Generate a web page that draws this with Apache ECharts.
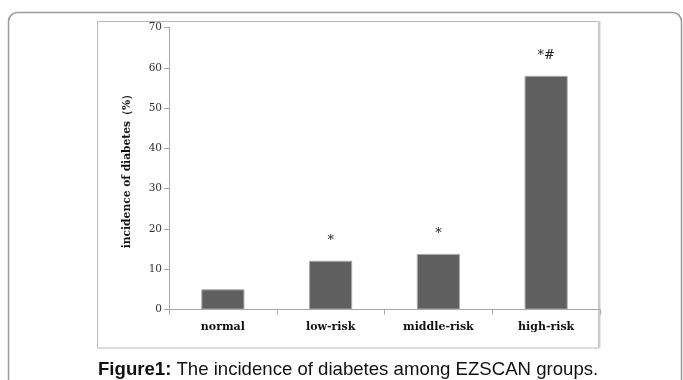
<!DOCTYPE html>
<html>
<head>
<meta charset="utf-8">
<script src="https://cdn.jsdelivr.net/npm/echarts@6/dist/echarts.min.js"></script>
<style>
html,body{margin:0;padding:0;background:#fff;}
#chart{width:683px;height:380px;}
</style>
</head>
<body>
<div id="chart"></div>
<script>
const categories = ['normal', 'low-risk', 'middle-risk', 'high-risk'];
const incidence = [5.0, 12.1, 13.8, 58.0];
const marks = ['', '*', '*', '*#'];
const yTicks = [0, 10, 20, 30, 40, 50, 60, 70];
const yAxisName = 'incidence of diabetes（%）';
const captionBold = 'Figure1:';
const captionText = ' The incidence of diabetes among EZSCAN groups.';

const chart = echarts.init(document.getElementById('chart'), null, {renderer: 'canvas'});
const serif = '"DejaVu Serif", "Liberation Serif", serif';
const sans = '"Liberation Sans", Arial, sans-serif';
chart.setOption({
  animation: false,
  backgroundColor: '#fff',
  title: {
    text: '{b|' + captionBold + '}{n|' + captionText + '}',
    left: 93,
    top: 355,
    textStyle: {
      fontWeight: 'normal',
      rich: {
        b: {fontFamily: sans, fontWeight: 'bold', fontSize: 18.6, color: '#111'},
        n: {fontFamily: sans, fontWeight: 'normal', fontSize: 18.6, color: '#111'}
      }
    }
  },
  graphic: [
    {type: 'rect', shape: {x: 8.5, y: 12.5, width: 673, height: 420, r: 9}, style: {fill: 'none', stroke: '#9a9a9a', lineWidth: 1.5}, z: -10},
    {type: 'rect', shape: {x: 97.5, y: 21.5, width: 501, height: 326.5}, style: {fill: 'none', stroke: '#b8b8b8', lineWidth: 1}, z: -9},
    {type: 'line', shape: {x1: 599.5, y1: 21, x2: 599.5, y2: 348}, style: {stroke: '#cfcfcf', lineWidth: 2}, z: -9}
  ],
  grid: {left: 169, right: 83, top: 27.5, bottom: 70.5, containLabel: false},
  xAxis: {
    type: 'category',
    data: categories,
    boundaryGap: true,
    axisLine: {lineStyle: {color: '#a8a8a8', width: 1}},
    axisTick: {show: true, length: 5, lineStyle: {color: '#a8a8a8'}},
    axisLabel: {fontFamily: serif, fontWeight: 'bold', fontSize: 11, color: '#111', margin: 12}
  },
  yAxis: {
    type: 'value',
    min: yTicks[0],
    max: yTicks[yTicks.length - 1],
    interval: 10,
    name: yAxisName,
    nameLocation: 'middle',
    nameGap: 36,
    nameRotate: 90,
    nameTextStyle: {fontFamily: serif, fontWeight: 'bold', fontSize: 10.7, color: '#111'},
    axisLine: {show: true, lineStyle: {color: '#a8a8a8', width: 1}},
    axisTick: {show: true, length: 5, lineStyle: {color: '#a8a8a8'}},
    splitLine: {show: false},
    axisLabel: {fontFamily: serif, fontSize: 10.5, color: '#333', margin: 7}
  },
  series: [{
    type: 'bar',
    data: incidence.map((v, i) => ({value: v, label: {formatter: marks[i]}})),
    barWidth: '40%',
    itemStyle: {color: '#5f5f5f', borderColor: '#a9a9a9', borderWidth: 1},
    label: {show: true, position: 'top', distance: 14, fontFamily: serif, fontSize: 13, color: '#222'}
  }]
});
</script>
</body>
</html>
